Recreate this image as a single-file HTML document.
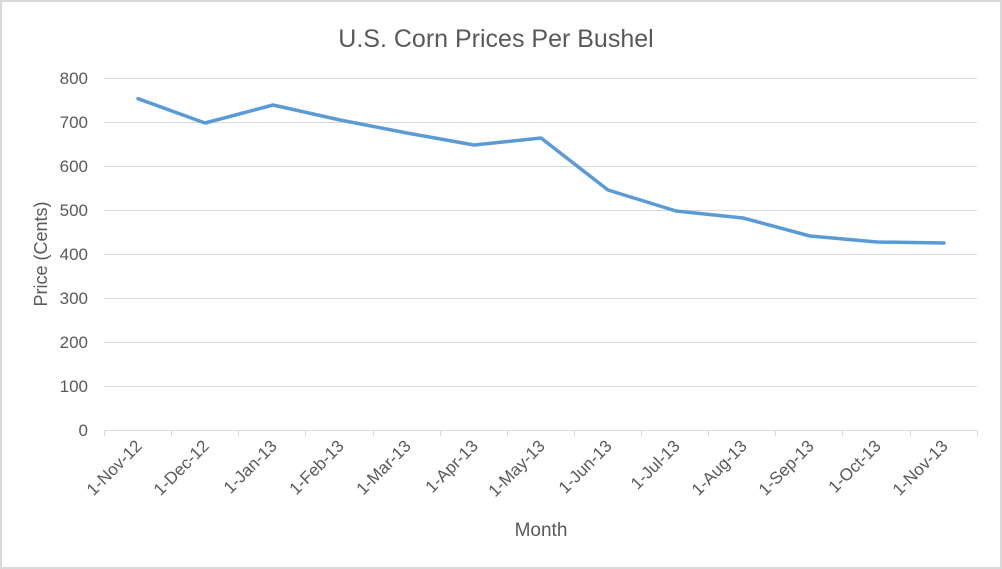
<!DOCTYPE html>
<html><head><style>body{margin:0;background:#fff}svg{display:block}</style></head><body>
<svg width="1002" height="569" xmlns="http://www.w3.org/2000/svg" font-family="Liberation Sans, sans-serif">
<rect x="1" y="1" width="1000" height="567" fill="#fff" stroke="#d9d9d9" stroke-width="2"/>
<text x="496" y="47" text-anchor="middle" font-size="25" fill="#595959">U.S. Corn Prices Per Bushel</text>
<g stroke="#d9d9d9" stroke-width="1">
<line x1="104" x2="977" y1="78.5" y2="78.5"/><line x1="104" x2="977" y1="122.5" y2="122.5"/>
<line x1="104" x2="977" y1="166.5" y2="166.5"/><line x1="104" x2="977" y1="210.5" y2="210.5"/>
<line x1="104" x2="977" y1="254.5" y2="254.5"/><line x1="104" x2="977" y1="298.5" y2="298.5"/>
<line x1="104" x2="977" y1="342.5" y2="342.5"/><line x1="104" x2="977" y1="386.5" y2="386.5"/>
<line x1="104" x2="977" y1="430.5" y2="430.5"/>
<line x1="104.5" x2="104.5" y1="430" y2="436"/><line x1="171.5" x2="171.5" y1="430" y2="436"/>
<line x1="238.5" x2="238.5" y1="430" y2="436"/><line x1="305.5" x2="305.5" y1="430" y2="436"/>
<line x1="373.5" x2="373.5" y1="430" y2="436"/><line x1="440.5" x2="440.5" y1="430" y2="436"/>
<line x1="507.5" x2="507.5" y1="430" y2="436"/><line x1="574.5" x2="574.5" y1="430" y2="436"/>
<line x1="641.5" x2="641.5" y1="430" y2="436"/><line x1="708.5" x2="708.5" y1="430" y2="436"/>
<line x1="775.5" x2="775.5" y1="430" y2="436"/><line x1="842.5" x2="842.5" y1="430" y2="436"/>
<line x1="910.5" x2="910.5" y1="430" y2="436"/><line x1="977.5" x2="977.5" y1="430" y2="436"/>
</g>
<g font-size="17" fill="#595959" text-anchor="end">
<text x="88" y="84">800</text><text x="88" y="128">700</text><text x="88" y="172">600</text>
<text x="88" y="216">500</text><text x="88" y="260">400</text><text x="88" y="304">300</text>
<text x="88" y="348">200</text><text x="88" y="392">100</text><text x="88" y="436">0</text>
</g>
<g font-size="17" fill="#595959" text-anchor="end">
<text transform="translate(143,447) rotate(-45)">1-Nov-12</text>
<text transform="translate(210,447) rotate(-45)">1-Dec-12</text>
<text transform="translate(278,447) rotate(-45)">1-Jan-13</text>
<text transform="translate(345,447) rotate(-45)">1-Feb-13</text>
<text transform="translate(412,447) rotate(-45)">1-Mar-13</text>
<text transform="translate(479,447) rotate(-45)">1-Apr-13</text>
<text transform="translate(546,447) rotate(-45)">1-May-13</text>
<text transform="translate(613,447) rotate(-45)">1-Jun-13</text>
<text transform="translate(681,447) rotate(-45)">1-Jul-13</text>
<text transform="translate(748,447) rotate(-45)">1-Aug-13</text>
<text transform="translate(815,447) rotate(-45)">1-Sep-13</text>
<text transform="translate(882,447) rotate(-45)">1-Oct-13</text>
<text transform="translate(949,447) rotate(-45)">1-Nov-13</text>
</g>
<text x="541" y="536" text-anchor="middle" font-size="19" fill="#595959">Month</text>
<text transform="translate(47,254) rotate(-90)" text-anchor="middle" font-size="18" fill="#595959">Price (Cents)</text>
<polyline fill="none" stroke="#5b9bd5" stroke-width="3.5" stroke-linejoin="round" stroke-linecap="round"
points="138,98.7 205,123 273,105 340,120 407,133 474,145 541,138 608,190 676,211 743,218 810,236 877,242 944,243"/>
</svg>
</body></html>
